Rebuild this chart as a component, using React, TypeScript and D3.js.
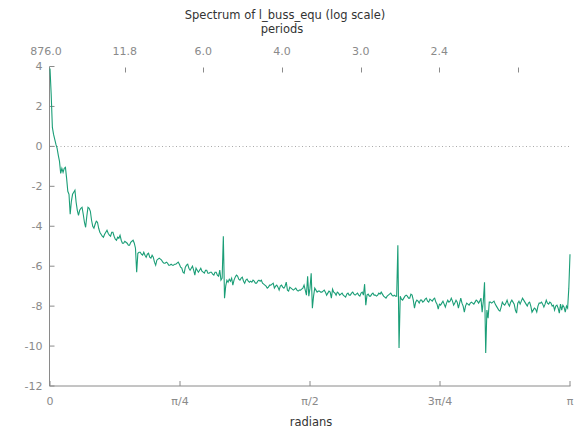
import React from "react";
import * as d3 from "d3";

// log spectral density at frequencies j*pi/438, j = 0..438
const logSpectrum: number[] = [
  3.9, 2.6, 0.95, 0.6, 0.35, 0.1, -0.1, -0.45, -0.75, -1.35,
  -1.1, -1.3, -1.1, -1.05, -1.6, -2.25, -2.4, -3.4, -2.75, -2.4,
  -2.3, -2.2, -2.8, -3.2, -3.45, -3.2, -3.1, -3.05, -3.4, -3.8,
  -4.05, -3.5, -3.05, -3.1, -3.25, -3.7, -4.0, -4.1, -3.9, -3.75,
  -3.8, -4.1, -4.3, -4.4, -4.5, -4.55, -4.4, -4.3, -4.2, -4.35,
  -4.45, -4.5, -4.3, -4.3, -4.5, -4.65, -4.7, -4.55, -4.6, -4.45,
  -4.7, -4.85, -4.85, -4.75, -4.8, -4.85, -4.95, -4.95, -4.8, -4.75,
  -4.7, -4.85, -5.1, -6.3, -5.35, -5.3, -5.3, -5.4, -5.45, -5.3,
  -5.45, -5.55, -5.4, -5.35, -5.55, -5.6, -5.45, -5.55, -5.8, -5.95,
  -5.7, -5.65, -5.6, -5.65, -5.7, -5.8, -5.85, -5.85, -5.8, -5.85,
  -5.95, -5.95, -5.9, -5.95, -5.95, -5.9, -5.9, -5.85, -5.8, -5.9,
  -6.05, -6.1, -6.3, -6.35, -6.05, -5.95, -5.9, -6.1, -6.2, -6.1,
  -6.0, -6.2, -6.45, -6.1, -6.2, -6.3, -6.2, -6.1, -6.25, -6.3,
  -6.35, -6.2, -6.2, -6.35, -6.35, -6.3, -6.3, -6.4, -6.45, -6.3,
  -6.3, -6.45, -6.5, -6.2, -6.7, -6.6, -4.5, -7.6, -7.0, -6.7,
  -6.8, -6.65, -6.75, -6.6, -6.95, -6.7, -6.55, -6.45, -6.5, -6.65,
  -6.7, -6.6, -6.55, -6.75, -6.85, -6.7, -6.65, -6.75, -6.8, -6.75,
  -6.8, -6.7, -6.75, -6.85, -6.85, -6.75, -6.7, -6.75, -6.7, -6.85,
  -6.9, -6.95, -7.0, -7.1, -7.05, -6.95, -6.95, -6.9, -6.85, -7.1,
  -7.0, -6.95, -7.05, -7.2, -7.0, -6.95, -7.05, -7.1, -7.0, -6.8,
  -7.2, -7.25, -7.05, -7.1, -7.15, -7.2, -7.15, -7.1, -7.2, -7.25,
  -7.2, -7.2, -7.15, -7.1, -6.95, -7.2, -7.45, -6.5, -7.5, -7.1,
  -6.35, -8.1, -7.5, -7.1, -7.2, -7.3, -7.25, -7.25, -7.3, -7.3,
  -7.25, -7.2, -7.3, -7.45, -7.35, -7.25, -7.3, -7.6, -7.15, -7.3,
  -7.35, -7.45, -7.3, -7.35, -7.45, -7.4, -7.35, -7.45, -7.5, -7.55,
  -7.4, -7.35, -7.45, -7.45, -7.35, -7.3, -7.4, -7.45, -7.4, -7.35,
  -7.45, -7.5, -7.35, -7.3, -7.45, -6.9, -7.95, -7.45, -7.4, -7.5,
  -7.5, -7.4, -7.35, -7.45, -7.45, -7.5, -7.45, -7.35, -7.4, -7.3,
  -7.4, -7.5, -7.55, -7.6, -7.5, -7.45, -7.4, -7.35, -7.45, -7.5,
  -7.45, -7.5, -7.5, -4.95, -10.1, -7.5, -7.65, -7.7, -7.6, -7.5,
  -7.45, -7.5, -7.6, -7.6, -7.4, -7.45, -7.7, -8.1, -7.8, -7.7,
  -7.75, -7.85, -7.7, -7.7, -7.8, -7.75, -7.65, -7.6, -7.75, -7.8,
  -7.65, -7.7, -7.75, -7.65, -7.6, -7.8, -7.9, -8.15, -7.9, -7.95,
  -7.85, -7.75, -7.9, -8.05, -7.85, -7.7, -7.8, -7.75, -7.6, -7.75,
  -7.95, -7.85, -7.7, -7.8, -8.1, -7.85, -7.6, -7.85, -8.0, -8.3,
  -8.0, -7.85, -7.9, -7.95, -7.85, -7.8, -7.85, -7.9, -7.8, -7.7,
  -7.75, -7.85, -7.75, -7.6, -8.3, -7.75, -6.8, -10.35, -8.2, -8.6,
  -7.8, -7.8, -7.85, -7.8, -7.75, -7.9, -8.0, -8.1, -8.2, -8.25,
  -8.05, -7.8, -7.9, -7.95, -7.85, -7.7, -7.9, -8.0, -7.8, -7.7,
  -7.8, -7.9, -8.2, -8.35, -7.85, -7.75, -7.9, -7.75, -7.6, -7.7,
  -7.8, -7.9, -8.0, -7.85, -7.8, -8.0, -8.3, -8.2, -8.1, -8.15,
  -8.3, -8.0, -7.85, -7.85, -7.8, -7.9, -8.05, -7.9, -7.7, -7.85,
  -7.9, -7.8, -7.85, -8.0, -7.95, -8.2, -8.0, -7.95, -8.1, -8.35,
  -7.9, -8.2, -7.95, -8.05, -8.3, -8.0, -8.1, -7.1, -5.4,
];

const yTicks = [-12, -10, -8, -6, -4, -2, 0, 2, 4];
const radianTicks = [0, Math.PI / 4, Math.PI / 2, (3 * Math.PI) / 4, Math.PI];
const radianLabels = ["0", "π/4", "π/2", "3π/4", "π"];
// periods axis: tick positions as frequency index, with their labels
const periodTickIdx = [1, 74, 147, 220, 293, 366, 439];
const periodLabels = ["876.0", "11.8", "6.0", "4.0", "3.0", "2.4", ""];

const W = 577;
const H = 435;
const margin = { top: 66.5, right: 7, bottom: 49, left: 50 };
const font = "'DejaVu Sans', Verdana, sans-serif";
const tickColor = "#8a8a8a";
const lineColor = "#1b9e77";

export default function App() {
  const innerW = W - margin.left - margin.right;
  const nFreq = logSpectrum.length - 1;

  const x = d3.scaleLinear().domain([0, Math.PI]).range([margin.left, margin.left + innerW]);
  const y = d3.scaleLinear().domain([-12, 4]).range([H - margin.bottom, margin.top]);
  const x2 = d3
    .scaleLinear()
    .domain([1, 439])
    .range([margin.left - 4, margin.left + innerW * 0.9]);

  const line = d3
    .line<number>()
    .x((_, i) => x((i * Math.PI) / nFreq))
    .y((d) => y(d));

  const bottom = y(-12);
  const left = x(0) - 0.5;

  return (
    <svg
      width={W}
      height={H}
      style={{ position: "absolute", left: 0, top: 0, background: "#fff" }}
      fontFamily={font}
    >
      {/* titles */}
      <text x={285} y={19} textAnchor="middle" fontSize={11.5} fill="#333">
        Spectrum of l_buss_equ (log scale)
      </text>
      <text x={282} y={33} textAnchor="middle" fontSize={11.5} fill="#333">
        periods
      </text>
      <text x={311} y={426} textAnchor="middle" fontSize={11.5} fill="#333">
        radians
      </text>

      {/* zero line */}
      <line
        x1={x(0)}
        x2={x(Math.PI)}
        y1={Math.round(y(0)) + 0.5}
        y2={Math.round(y(0)) + 0.5}
        stroke="#aaa"
        strokeDasharray="1,2.5"
      />

      {/* axes */}
      <line x1={left} x2={left} y1={y(4)} y2={bottom} stroke={tickColor} />
      <line x1={left} x2={x(Math.PI) + 0.5} y1={bottom} y2={bottom} stroke={tickColor} />

      {yTicks.map((t) => (
        <g key={"y" + t}>
          <line x1={left} x2={left + 5} y1={y(t)} y2={y(t)} stroke={tickColor} />
          <text
            x={left - 7}
            y={y(t)}
            dy="0.35em"
            textAnchor="end"
            fontSize={11}
            fill={tickColor}
          >
            {t}
          </text>
        </g>
      ))}

      {radianTicks.map((t, i) => (
        <g key={"x" + i}>
          <line x1={x(t)} x2={x(t)} y1={bottom} y2={bottom - 5} stroke={tickColor} />
          <text x={x(t)} y={405} textAnchor="middle" fontSize={11} fill={tickColor}>
            {radianLabels[i]}
          </text>
        </g>
      ))}

      {periodTickIdx.map((t, i) => (
        <g key={"p" + i}>
          {i > 0 && (
            <line
              x1={Math.round(x2(t)) + 0.5}
              x2={Math.round(x2(t)) + 0.5}
              y1={margin.top + 1}
              y2={margin.top + 6}
              stroke={tickColor}
            />
          )}
          <text x={x2(t)} y={55} textAnchor="middle" fontSize={11} fill={tickColor}>
            {periodLabels[i]}
          </text>
        </g>
      ))}

      {/* spectrum */}
      <path d={line(logSpectrum) ?? ""} fill="none" stroke={lineColor} strokeWidth={1.1} />
    </svg>
  );
}
